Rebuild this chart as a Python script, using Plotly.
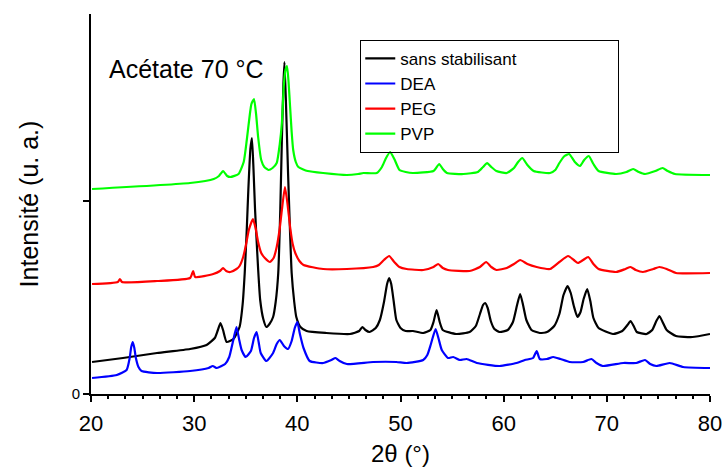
import plotly.graph_objects as go

# 2theta (deg), intensity (a.u., offset curves)
sans_stab_pts = [
    (20.1, 32), (23.1, 36), (26.4, 41), (29.6, 45), (31.2, 49), (32.0, 56), (32.3, 64),
    (32.55, 71), (32.8, 64), (33.15, 52), (33.8, 55), (34.4, 67), (34.7, 90), (34.9, 121),
    (35.1, 165), (35.25, 204), (35.45, 245), (35.6, 256), (35.75, 225), (35.9, 185),
    (36.05, 154), (36.2, 125), (36.4, 94), (36.7, 75), (37.0, 67), (37.3, 70), (37.65, 77),
    (37.9, 92), (38.15, 121), (38.35, 185), (38.5, 254), (38.65, 310), (38.75, 332),
    (38.9, 290), (39.1, 221), (39.3, 160), (39.45, 121), (39.7, 92), (39.9, 77),
    (40.3, 67), (40.9, 63), (42.8, 61), (45.1, 60), (46.0, 63), (46.3, 67), (46.6, 64),
    (47.0, 62), (47.6, 66), (48.0, 74), (48.4, 92), (48.7, 110), (48.9, 116), (49.1, 110),
    (49.35, 92), (49.6, 74), (50.0, 66), (50.5, 63), (51.2, 63), (52.2, 61), (52.9, 64),
    (53.2, 72), (53.5, 84), (53.8, 72), (54.1, 64), (55.4, 60), (56.7, 62), (57.3, 68),
    (57.7, 80), (58.0, 89), (58.2, 91), (58.45, 86), (58.75, 73), (59.1, 65), (59.6, 62),
    (60.4, 64), (60.9, 72), (61.3, 89), (61.6, 100), (61.9, 88), (62.2, 74), (62.7, 64),
    (63.5, 61), (64.2, 62), (64.9, 68), (65.4, 80), (65.8, 99), (66.2, 108), (66.5, 101),
    (66.8, 88), (67.15, 77), (67.45, 82), (67.75, 95), (68.1, 105), (68.4, 93),
    (68.7, 76), (69.2, 66), (70.6, 60), (71.5, 63), (72.0, 69), (72.3, 73), (72.6, 68),
    (72.9, 62), (73.85, 60), (74.4, 64), (74.8, 73), (75.1, 78), (75.45, 71), (75.8, 64),
    (76.7, 58), (78.3, 57), (80.0, 60),
]
dea_pts = [
    (20.1, 16), (22.5, 19), (23.45, 24), (23.75, 36), (23.9, 47), (24.05, 52), (24.2, 46),
    (24.35, 36), (24.6, 27), (24.9, 23), (26.4, 21), (29.6, 23), (31.4, 26), (31.8, 28),
    (32.2, 26), (33.0, 30), (33.4, 37), (33.75, 52), (34.1, 67), (34.35, 55), (34.6, 44),
    (35.0, 37), (35.5, 43), (35.8, 56), (36.05, 62), (36.25, 52), (36.45, 41), (37.0, 33),
    (37.65, 41), (38.0, 50), (38.3, 54), (38.7, 48), (39.1, 45), (39.45, 53), (39.75, 66),
    (40.0, 72), (40.25, 60), (40.6, 46), (41.2, 33), (42.5, 31), (43.3, 34), (43.7, 36),
    (44.1, 33), (44.8, 30), (47.35, 32), (49.6, 32), (50.6, 31), (52.2, 34), (52.6, 39),
    (52.95, 50), (53.4, 65), (53.7, 55), (54.0, 44), (54.6, 36), (55.1, 37), (55.75, 34),
    (56.4, 35), (57.4, 31), (59.6, 28), (61.25, 31), (62.05, 34), (62.85, 36), (63.2, 43),
    (63.5, 35), (64.2, 35), (64.8, 37), (65.5, 35), (66.4, 32), (67.7, 32), (68.5, 35),
    (69.0, 31), (69.6, 28), (71.6, 31), (72.85, 31), (73.7, 34), (74.2, 30), (74.8, 28),
    (76.1, 31), (77.4, 27), (80.0, 26),
]
peg_pts = [
    (20.1, 110), (22.6, 112), (22.8, 115), (23.0, 112), (26.4, 113), (29.6, 116),
    (29.9, 123), (30.1, 117), (31.85, 120), (32.5, 123), (32.8, 126), (33.1, 123),
    (33.5, 122), (34.1, 125), (34.4, 128), (34.75, 137), (35.0, 148), (35.3, 164),
    (35.7, 175), (35.95, 166), (36.2, 152), (36.5, 141), (36.85, 136), (37.35, 132),
    (37.7, 136), (38.0, 147), (38.3, 166), (38.5, 184), (38.8, 207), (39.05, 190),
    (39.3, 167), (39.55, 150), (39.8, 141), (40.2, 133), (40.6, 129), (42.5, 125),
    (44.8, 125), (47.35, 127), (47.9, 129), (48.4, 134), (48.9, 138), (49.4, 132),
    (49.9, 127), (50.6, 125), (52.2, 124), (53.2, 127), (53.65, 130), (54.1, 126),
    (54.6, 124), (56.7, 123), (57.7, 127), (58.3, 132), (58.8, 127), (59.3, 124),
    (60.3, 126), (61.0, 130), (61.6, 134), (62.3, 130), (63.2, 127), (64.5, 125),
    (65.4, 132), (66.25, 138), (66.8, 134), (67.2, 131), (67.7, 134), (68.2, 137),
    (68.7, 130), (69.2, 125), (70.9, 122), (71.8, 125), (72.3, 127), (72.8, 124),
    (73.5, 122), (74.5, 125), (75.1, 127), (75.8, 125), (76.7, 121), (80.0, 121),
]
pvp_pts = [
    (20.1, 205), (29.6, 211), (31.9, 215), (32.4, 218), (32.8, 223), (33.2, 218),
    (33.5, 217), (34.3, 220), (34.8, 232), (35.1, 254), (35.4, 280), (35.55, 290),
    (35.8, 295), (36.0, 280), (36.2, 257), (36.5, 234), (36.8, 227), (37.2, 224),
    (37.6, 226), (38.0, 231), (38.3, 250), (38.5, 271), (38.7, 310), (38.85, 324),
    (39.0, 328), (39.15, 312), (39.3, 287), (39.45, 262), (39.6, 244), (39.85, 232),
    (40.1, 227), (41.0, 223), (42.5, 221), (44.8, 219), (45.9, 220), (46.4, 221),
    (47.7, 221), (48.2, 227), (48.6, 236), (49.0, 242), (49.4, 235), (49.9, 224),
    (50.5, 222), (51.2, 221), (53.2, 223), (53.75, 230), (54.1, 225), (54.5, 221),
    (56.1, 220), (57.5, 222), (58.0, 227), (58.4, 231), (58.8, 227), (59.3, 223),
    (60.3, 221), (61.0, 226), (61.4, 232), (61.8, 236), (62.3, 229), (62.9, 223),
    (64.5, 221), (65.0, 224), (65.4, 231), (65.9, 238), (66.35, 240), (66.9, 232),
    (67.4, 228), (67.8, 234), (68.25, 238), (68.7, 230), (69.2, 223), (70.9, 220),
    (71.9, 222), (72.55, 225), (73.1, 222), (73.7, 220), (74.7, 223), (75.4, 226),
    (75.9, 223), (76.6, 220), (80.0, 219),
]

series_names = ["sans stabilisant", "DEA", "PEG", "PVP"]
series_pts = [sans_stab_pts, dea_pts, peg_pts, pvp_pts]
series_colors = ["#000000", "#0000FF", "#FF0000", "#00FF00"]

x_ticks = [20, 30, 40, 50, 60, 70, 80]
y_tickvals = [0, 193]
y_ticktext = ["0", ""]

FONT = "Arial, Liberation Sans, sans-serif"

fig = go.Figure()
for name, pts, col in zip(series_names, series_pts, series_colors):
    xs = [p[0] for p in pts]
    ys = [p[1] for p in pts]
    fig.add_trace(go.Scatter(x=xs, y=ys, mode="lines", name=name, legendgroup="all",
                             line=dict(color=col, width=2.2, shape="spline",
                                       smoothing=0.5)))

fig.update_layout(
    width=727, height=470,
    margin=dict(l=91, r=17, t=14, b=76, autoexpand=False),
    paper_bgcolor="white", plot_bgcolor="white",
    font=dict(family=FONT, color="black"),
    showlegend=True,
    legend=dict(x=0.435, y=0.932, xanchor="left", yanchor="top",
                orientation="h", entrywidth=213, entrywidthmode="pixels",
                bordercolor="black", borderwidth=1, bgcolor="rgba(255,255,255,0)",
                font=dict(size=17, family=FONT), tracegroupgap=0),
    annotations=[dict(text="Acétate 70 °C", xref="paper", yref="paper",
                      x=0.026, y=0.855, xanchor="left", yanchor="middle",
                      showarrow=False, font=dict(size=25, family=FONT))],
)
fig.update_xaxes(
    range=[20, 80], tickvals=x_ticks, showline=True, linecolor="black", linewidth=2,
    ticks="outside", ticklen=6, tickwidth=1.5, tickcolor="black",
    tickfont=dict(size=22, family=FONT), showgrid=False, zeroline=False,
    ticklabelstandoff=3, automargin=False,
    minor=dict(tick0=20, dtick=10 / 6, ticks="outside", ticklen=3, tickwidth=1.5,
               tickcolor="black", showgrid=False),
    title=dict(text="2θ (°)", font=dict(size=24, family=FONT), standoff=10),
)
fig.update_yaxes(
    range=[0, 380], tickvals=y_tickvals, ticktext=y_ticktext, showline=True,
    linecolor="black", linewidth=2, ticks="outside", ticklen=6, tickwidth=1.5,
    tickcolor="black", tickfont=dict(size=15, family=FONT), showgrid=False,
    zeroline=False, automargin=False,
    title=dict(text="Intensité (u. a.)", font=dict(size=25, family=FONT), standoff=26),
)

fig.write_html("out.html")
